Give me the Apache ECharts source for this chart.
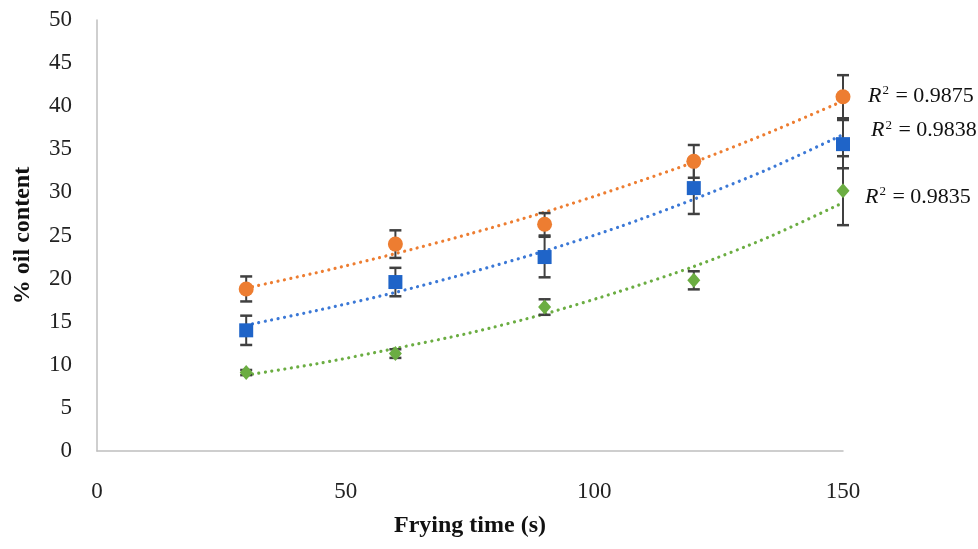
<!DOCTYPE html>
<html><head><meta charset="utf-8">
<script src="https://cdn.jsdelivr.net/npm/echarts@6/dist/echarts.min.js"></script>
<style>html,body{margin:0;padding:0;background:#fff}#c{width:978px;height:549px}</style>
</head><body><div id="c"></div>
<script>
// Frying time (s)
const frying = [30, 60, 90, 120, 150];
// measured % oil content (markers)
const orangeVals = [18.8, 24.0, 26.3, 33.6, 41.1];
const blueVals   = [14.0, 19.6, 22.5, 30.5, 35.6];
const greenVals  = [9.1, 11.3, 16.7, 19.8, 30.2];
// error bar half-widths (±)
const orangeErr = [1.45, 1.6, 1.3, 1.9, 2.5];
const blueErr   = [1.7, 1.65, 2.35, 3.0, 2.8];
const greenErr  = [0.3, 0.5, 0.9, 1.05, 4.0];
// dotted trendlines, values
const trendX      = [30, 45, 60, 75, 90, 105, 120, 135, 150];
const orangeTrend = [18.9, 20.8, 22.9, 25.2, 27.7, 30.5, 33.5, 36.9, 40.6];
const blueTrend   = [14.6, 16.4, 18.4, 20.7, 23.2, 26.0, 29.2, 32.7, 36.7];
const greenTrend  = [8.8, 10.2, 11.9, 13.7, 15.9, 18.5, 21.4, 24.8, 28.8];
// R² labels
const r2Labels = ['0.9875', '0.9838', '0.9835'];
// axis titles
const xTitle = 'Frying time (s)';
const yTitle = '% oil content';

const C_OR = '#ED7D31', C_BL = '#1F64C8', C_GR = '#6BAD42';
const C_BL_LINE = '#3B78D6';
const SERIF = '"Liberation Serif", "DejaVu Serif", serif';

const chart = echarts.init(document.getElementById('c'));

function pairs(xs, ys) { return xs.map((x, i) => [x, ys[i]]); }

function errSeries(vals, errs) {
  return {
    type: 'custom', z: 3, silent: true,
    data: frying.map((x, i) => [x, vals[i] - errs[i], vals[i] + errs[i]]),
    encode: { x: 0, y: [1, 2] },
    renderItem(params, api) {
      const x = api.value(0);
      const lo = api.coord([x, api.value(1)]);
      const hi = api.coord([x, api.value(2)]);
      const w = 6;
      const st = { stroke: '#404040', lineWidth: 2 };
      const cap = { stroke: '#404040', lineWidth: 2.5 };
      return {
        type: 'group', children: [
          { type: 'line', shape: { x1: lo[0], y1: lo[1], x2: hi[0], y2: hi[1] }, style: st },
          { type: 'line', shape: { x1: lo[0] - w, y1: lo[1], x2: lo[0] + w, y2: lo[1] }, style: cap },
          { type: 'line', shape: { x1: hi[0] - w, y1: hi[1], x2: hi[0] + w, y2: hi[1] }, style: cap }
        ]
      };
    }
  };
}

function trendSeries(vals, color, label, offset) {
  return {
    type: 'line', z: 2, silent: true, symbol: 'none', smooth: 0.25,
    data: pairs(trendX, vals),
    lineStyle: { color: color, width: 3.2, type: [0.01, 6.5], cap: 'round' },
    endLabel: {
      show: true, offset: offset,
      formatter: () => '{i|R}{s|2}{n| = ' + label + '}',
      rich: {
        i: { fontFamily: SERIF, fontStyle: 'italic', fontSize: 22, color: '#111' },
        s: { fontFamily: SERIF, fontSize: 13, color: '#111', padding: [0, 1, 10, 1] },
        n: { fontFamily: SERIF, fontSize: 22, color: '#111' }
      }
    }
  };
}

function markerSeries(vals, symbol, size, color) {
  return {
    type: 'scatter', z: 5, data: pairs(frying, vals), symbol: symbol, symbolSize: size,
    itemStyle: { color: color, opacity: 1 }
  };
}

chart.setOption({
  backgroundColor: '#fff',
  animation: false,
  grid: { left: 97, right: 135, top: 20, bottom: 98 },
  xAxis: {
    type: 'value', min: 0, max: 150, interval: 50,
    axisLine: { show: true, lineStyle: { color: '#BFBFBF', width: 1.5 } },
    axisTick: { show: false }, splitLine: { show: false },
    axisLabel: { fontFamily: SERIF, fontSize: 23, color: '#222', margin: 29 },
    name: xTitle, nameLocation: 'middle', nameGap: 63,
    nameTextStyle: { fontFamily: SERIF, fontSize: 24, fontWeight: 'bold', color: '#111' }
  },
  yAxis: {
    type: 'value', min: 0, max: 50, interval: 5,
    axisLine: { show: true, lineStyle: { color: '#BFBFBF', width: 1.5 } },
    axisTick: { show: false }, splitLine: { show: false },
    axisLabel: { fontFamily: SERIF, fontSize: 23, color: '#222', margin: 25 },
    name: yTitle, nameLocation: 'middle', nameGap: 62, nameRotate: 90,
    nameTextStyle: { fontFamily: SERIF, fontSize: 24, fontWeight: 'bold', color: '#111' }
  },
  series: [
    trendSeries(orangeTrend, C_OR, r2Labels[0], [17, -5]),
    trendSeries(blueTrend, C_BL_LINE, r2Labels[1], [20, -4]),
    trendSeries(greenTrend, C_GR, r2Labels[2], [14, -6]),
    errSeries(orangeVals, orangeErr),
    errSeries(blueVals, blueErr),
    errSeries(greenVals, greenErr),
    markerSeries(orangeVals, 'circle', 15, C_OR),
    markerSeries(blueVals, 'rect', 14, C_BL),
    markerSeries(greenVals, 'diamond', [13, 15], C_GR)
  ]
});
</script>
</body></html>
